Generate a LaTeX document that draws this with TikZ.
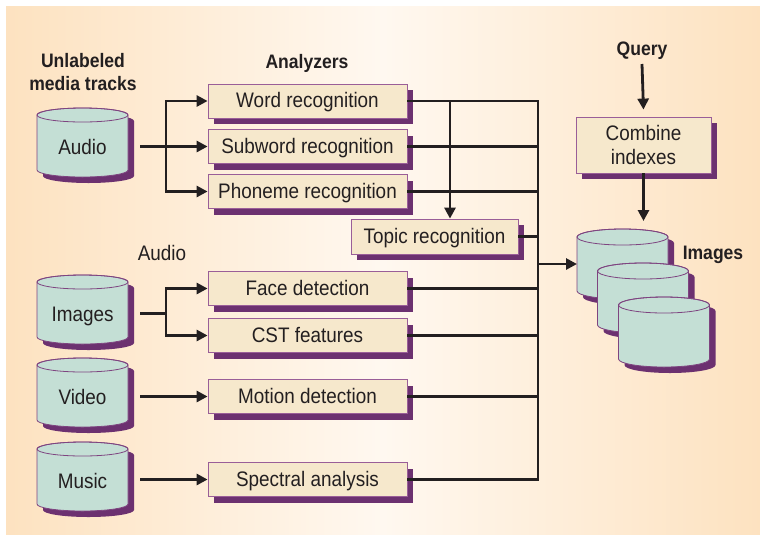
\documentclass[tikz,border=0pt]{standalone}
\usepackage{fontspec}
\setmainfont{Liberation Sans}[FakeStretch=0.9]
\usetikzlibrary{arrows.meta,shadows}
\definecolor{bgo}{HTML}{FDE2C0}
\definecolor{bgl}{HTML}{FFF8F0}
\definecolor{boxfill}{HTML}{F6E8CC}
\definecolor{boxline}{HTML}{9A5E98}
\definecolor{shadowc}{HTML}{6C3170}
\definecolor{cylfill}{HTML}{C4DFD5}
\definecolor{cylline}{HTML}{7E4480}
\definecolor{ink}{HTML}{231F20}
\newcommand{\drawcyl}[5]{%
  \fill[shadowc] ({#1-#4+6},{#2+6}) -- ({#1-#4+6},{#3+6})
    arc[start angle=180,end angle=360,x radius=#4pt,y radius=#5pt]
    -- ({#1+#4+6},{#2+6})
    arc[start angle=0,end angle=180,x radius=#4pt,y radius=#5pt] -- cycle;
  \filldraw[fill=cylfill,draw=cylline,line width=0.8pt] ({#1-#4},#2) -- ({#1-#4},#3)
    arc[start angle=180,end angle=360,x radius=#4pt,y radius=#5pt]
    -- ({#1+#4},#2)
    arc[start angle=0,end angle=180,x radius=#4pt,y radius=#5pt] -- cycle;
  \draw[cylline,line width=0.8pt] (#1,#2) ellipse [x radius=#4pt,y radius=#5pt];
}
\tikzset{
  anbox/.style={draw=boxline,line width=0.8pt,fill=boxfill,inner sep=0pt,
    text=ink,font=\fontsize{21}{24}\selectfont,text height=15pt,text depth=2pt,
    minimum width=199pt,minimum height=34pt,
    general shadow={fill=shadowc,shadow xshift=6pt,shadow yshift=-6pt}},
  cyltext/.style={anchor=base,inner sep=0pt,text=ink,font=\fontsize{21}{24}\selectfont},
  plainlabel/.style={anchor=base,inner sep=0pt,text=ink,font=\fontsize{21}{24}\selectfont},
  boldlabel/.style={anchor=base,inner sep=0pt,text=ink,font=\fontsize{19.5}{23}\selectfont\bfseries,align=center},
  conn/.style={draw=ink,line width=2.8pt},
  arr/.style={conn,-{Triangle[length=11pt,width=11pt]}},
}
\begin{document}
\begin{tikzpicture}[x=1pt,y=-1pt]
\useasboundingbox (0,0) rectangle (760,542);
\shade[left color=bgo,right color=bgo,middle color=bgl] (6,6) rectangle (760,534);

% labels
\node[boldlabel] (unl) at (83,67) {Unlabeled};
\node[boldlabel] (unl2) at (83,90) {media tracks};
\node[boldlabel] (anl) at (307,68) {Analyzers};
\node[boldlabel] (query) at (642,55) {Query};
\node[boldlabel] (imglab) at (713,259) {Images};
\node[plainlabel] (audlab) at (162,260) {Audio};

% source cylinders
\drawcyl{82.5}{115}{170}{45.5}{7}
\node[cyltext] (audio) at (82.5,154) {Audio};
\drawcyl{82.5}{282}{337}{45.5}{7}
\node[cyltext] (images) at (82.5,321) {Images};
\drawcyl{82.5}{365}{420}{45.5}{7}
\node[cyltext] (video) at (82.5,404) {Video};
\drawcyl{82.5}{449}{504}{45.5}{7}
\node[cyltext] (music) at (82.5,488) {Music};

% image stack
\drawcyl{622.5}{237}{291}{45.5}{8}
\coordinate (stackin) at (577,264);
\coordinate (stacktop) at (643.5,221);
\drawcyl{643}{271}{325}{45.5}{8}
\drawcyl{664}{305}{359}{45.5}{8}

% analyzer boxes
\node[anbox] (word) at (307.5,101) {Word recognition};
\node[anbox] (sub) at (307.5,146.5) {Subword recognition};
\node[anbox] (phon) at (307.5,191.5) {Phoneme recognition};
\node[anbox,minimum width=167pt,minimum height=35pt] (topic) at (434.5,236.5) {Topic recognition};
\node[anbox] (face) at (307.5,288.5) {Face detection};
\node[anbox] (cst) at (307.5,335.5) {CST features};
\node[anbox] (motion) at (307.5,396.5) {Motion detection};
\node[anbox] (spec) at (307.5,479.5) {Spectral analysis};
\node[anbox,minimum width=135pt,minimum height=56pt,text height=,text depth=,align=center,
  font=\fontsize{21}{24}\selectfont] (comb) at (643.5,145) {Combine\\indexes};

% left connectors
\coordinate (audioout) at (140,146.5);
\coordinate (audiobr) at (166,146.5);
\draw[conn] (audioout) -- (audiobr);
\draw[arr] (audiobr) |- (word.west);
\draw[arr] (audiobr) -- (sub.west);
\draw[arr] (audiobr) |- (phon.west);

\coordinate (imgout) at (140,313.5);
\coordinate (imgbr) at (166,313.5);
\draw[conn] (imgout) -- (imgbr);
\draw[arr] (imgbr) |- (face.west);
\draw[arr] (imgbr) |- (cst.west);

\coordinate (vidout) at (140,396.5);
\draw[arr] (vidout) -- (motion.west);
\coordinate (musout) at (140,479.5);
\draw[arr] (musout) -- (spec.west);

% right collector
\coordinate (bustop) at (538,101);
\coordinate (busbot) at (538,479.5);
\coordinate (busmid) at (538,264);
\draw[conn,line join=miter] (word.east) -- (bustop) -- (busbot) -- (spec.east);
\draw[conn] (sub.east) -- (sub.east -| bustop);
\draw[conn] (phon.east) -- (phon.east -| bustop);
\draw[conn] (topic.east) -- (topic.east -| bustop);
\draw[conn] (face.east) -- (face.east -| bustop);
\draw[conn] (cst.east) -- (cst.east -| bustop);
\draw[conn] (motion.east) -- (motion.east -| bustop);
\coordinate (topicsrc) at (450,101);
\draw[arr] (topicsrc) -- (topicsrc |- topic.north);
\draw[arr] (busmid) -- (stackin);

% query path
\draw[arr] ([yshift=-9pt]query.base) -- ([yshift=7pt]comb.north);
\draw[arr] (comb.south) -- (stacktop);
\end{tikzpicture}
\end{document}
